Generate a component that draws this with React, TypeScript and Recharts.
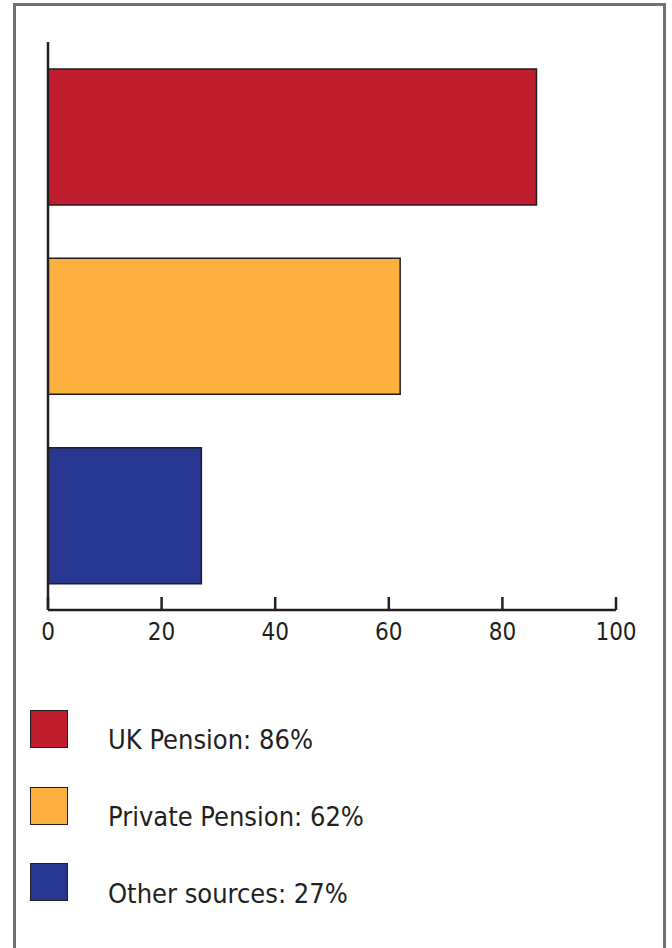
import { BarChart, Bar, XAxis, YAxis, Cell } from 'recharts';

const sources = ['UK Pension', 'Private Pension', 'Other sources'];
const shares = [86, 62, 27];
const colors = ['#be1e2d', '#fbb040', '#283891'];
const xTicks = [0, 20, 40, 60, 80, 100];

const data = sources.map((name, i) => ({ name, value: shares[i] }));

const FONT = '"DejaVu Sans Condensed", "DejaVu Sans", sans-serif';
const INK = '#231f20';

const AxisTick = ({ x, y, payload }: any) => (
  <g>
    <line x1={x} y1={y - 13} x2={x} y2={y} stroke={INK} strokeWidth={2.5} />
    <text x={x} y={y + 30} textAnchor="middle" fill={INK} fontSize={24} fontFamily={FONT}>
      {payload.value}
    </text>
  </g>
);

export default function App() {
  return (
    <div style={{ position: 'absolute', left: 0, top: 0, width: 672, height: 948, background: '#fff', overflow: 'hidden' }}>
      <div
        style={{
          position: 'absolute',
          left: 13,
          top: 3,
          width: 647,
          height: 980,
          border: '3px solid #707070',
        }}
      />
      <div style={{ position: 'absolute', left: 0, top: 0 }}>
        <BarChart
          layout="vertical"
          width={672}
          height={680}
          data={data}
          margin={{ top: 42, right: 56, left: 38, bottom: 30 }}
        >
          <XAxis
            type="number"
            domain={[0, 100]}
            ticks={xTicks}
            height={40}
            tickSize={0}
            tickMargin={0}
            tickLine={false}
            axisLine={{ stroke: INK, strokeWidth: 2.5 }}
            tick={<AxisTick />}
            interval={0}
          />
          <YAxis
            type="category"
            dataKey="name"
            width={10}
            tick={false}
            tickLine={false}
            axisLine={{ stroke: INK, strokeWidth: 2.5 }}
          />
          <Bar dataKey="value" barSize={136} stroke={INK} strokeWidth={1.5} isAnimationActive={false}>
            {data.map((entry, index) => (
              <Cell key={`cell-${index}`} fill={colors[index]} />
            ))}
          </Bar>
        </BarChart>
      </div>
      {data.map((entry, i) => (
        <div key={entry.name}>
          <div
            style={{
              position: 'absolute',
              left: 30,
              top: 710 + i * 76.5,
              width: 36,
              height: 36,
              background: colors[i],
              border: `1.5px solid ${INK}`,
            }}
          />
          <div
            style={{
              position: 'absolute',
              left: 108,
              top: 752 + i * 77 - 27,
              fontFamily: FONT,
              fontSize: 27,
              lineHeight: '30px',
              color: INK,
              whiteSpace: 'nowrap',
            }}
          >
            {`${entry.name}: ${entry.value}%`}
          </div>
        </div>
      ))}
    </div>
  );
}
